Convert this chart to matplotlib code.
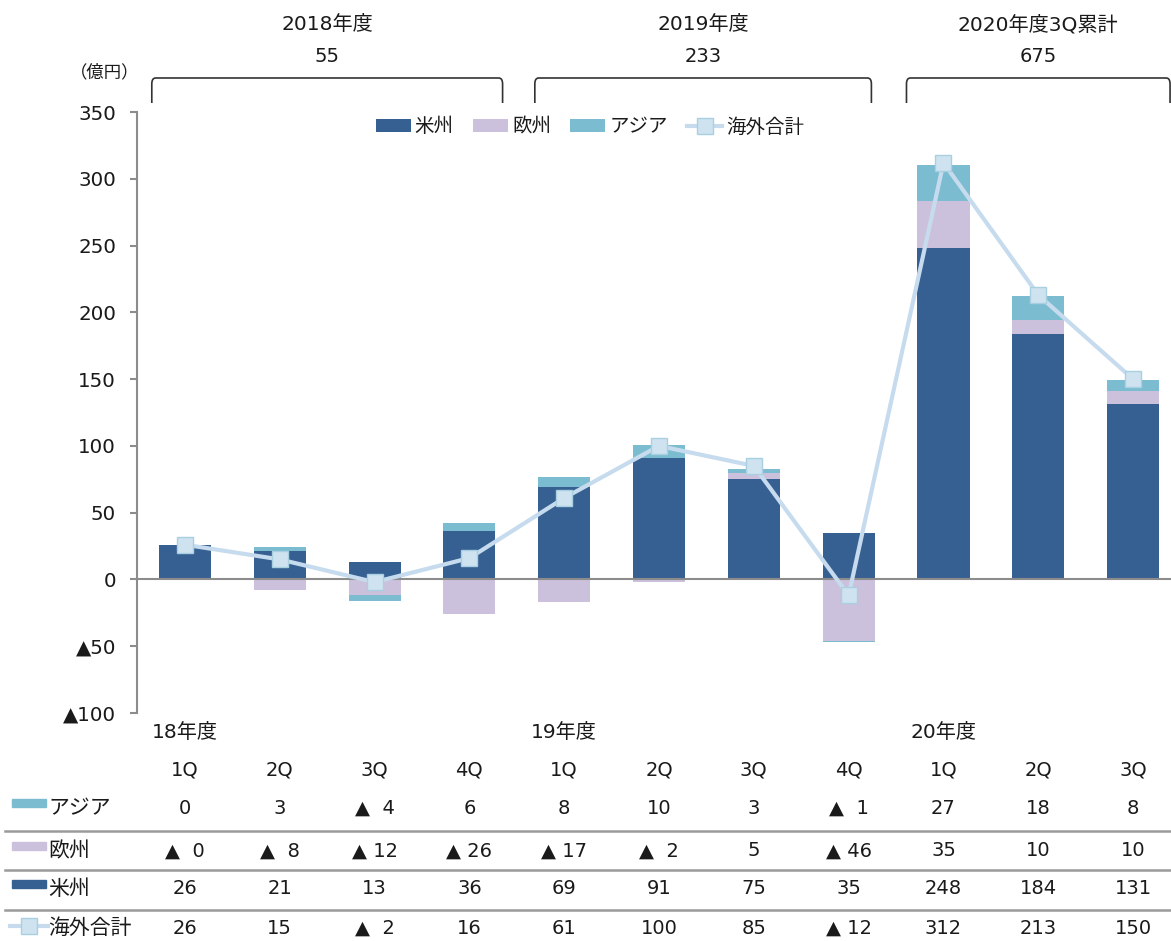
import numpy as np
import matplotlib.pyplot as plt
from matplotlib.path import Path
from matplotlib.patches import PathPatch, Rectangle
from matplotlib.lines import Line2D
import matplotlib.transforms as mtransforms

plt.rcParams['font.family'] = ['DejaVu Sans', 'Noto Sans CJK JP']
plt.rcParams['text.color'] = '#1a1a1a'

quarters = ['1Q', '2Q', '3Q', '4Q', '1Q', '2Q', '3Q', '4Q', '1Q', '2Q', '3Q']
year_labels = ['18年度', '19年度', '20年度']
year_start_idx = [0, 4, 8]

asia = [0, 3, -4, 6, 8, 10, 3, -1, 27, 18, 8]
europe = [-0.4, -8, -12, -26, -17, -2, 5, -46, 35, 10, 10]
america = [26, 21, 13, 36, 69, 91, 75, 35, 248, 184, 131]
total = [26, 15, -2, 16, 61, 100, 85, -12, 312, 213, 150]

period_titles = ['2018年度', '2019年度', '2020年度3Q累計']
period_totals = ['55', '233', '675']

c_america = '#376092'
c_europe = '#ccc1dc'
c_asia = '#7cbcd0'
c_line = '#c6dcee'
c_mark = '#cfe2f0'
c_mark_edge = '#a9d0e0'

W, H = 1171, 941
fig = plt.figure(figsize=(W / 100, H / 100), dpi=100)


def fx(px):
    return px / W


def fy(py):
    return 1 - py / H


ax = fig.add_axes([fx(137), fy(713), fx(1171) - fx(137), fy(112) - fy(713)])
x = np.arange(len(quarters))

pos = np.zeros(len(x))
neg = np.zeros(len(x))
for vals, col, lab in [(america, c_america, '米州'), (europe, c_europe, '欧州'), (asia, c_asia, 'アジア')]:
    v = np.array(vals, dtype=float)
    bottom = np.where(v >= 0, pos, neg)
    ax.bar(x, v, 0.55, bottom=bottom, color=col, label=lab, zorder=2)
    pos = np.where(v >= 0, pos + v, pos)
    neg = np.where(v < 0, neg + v, neg)

ax.plot(x, total, color=c_line, lw=3, marker='s', ms=11, mfc=c_mark, mec=c_mark_edge,
        mew=1, label='海外合計', zorder=4)

ax.axhline(0, color='#8c8c8c', lw=1.5, zorder=3)
ax.set_xlim(-0.506, 10.40)
ax.set_ylim(-100, 350)
ax.set_yticks(range(-100, 351, 50))
ax.set_yticklabels([('▲%d' % -t) if t < 0 else str(t) for t in range(-100, 351, 50)], fontsize=14.3,
                   color='#1a1a1a')
ax.set_xticks([])
for s in ['top', 'right', 'bottom']:
    ax.spines[s].set_visible(False)
ax.spines['left'].set_color('#8c8c8c')
ax.spines['left'].set_linewidth(1.5)
ax.tick_params(axis='y', length=5, color='#8c8c8c', width=1.5, pad=10)

handles, labels = ax.get_legend_handles_labels()
order = [1, 2, 3, 0]
ax.legend([handles[i] for i in order], [labels[i] for i in order], ncol=4, loc='center',
          bbox_to_anchor=((590 - 137) / 1034, (713 - 127) / 601), frameon=False, fontsize=14,
          handlelength=1.8, handleheight=0.6, columnspacing=1.0, handletextpad=0.2)

fig.text(fx(105), fy(72), '（億円）', ha='center', va='center', fontsize=12.5)

# brackets above the chart
blend = mtransforms.blended_transform_factory(ax.transData, fig.transFigure)
spans = [(-0.35, 3.35), (3.69, 7.24), (7.61, 10.39)]
for (a, b), t, n in zip(spans, period_titles, period_totals):
    y_top, y_bot, r = fy(78), fy(103), 0.04
    rv = 6 / H
    verts = [(a, y_bot), (a, y_top - rv), (a, y_top), (a + r, y_top),
             (b - r, y_top), (b, y_top), (b, y_top - rv), (b, y_bot)]
    codes = [Path.MOVETO, Path.LINETO, Path.CURVE3, Path.CURVE3,
             Path.LINETO, Path.CURVE3, Path.CURVE3, Path.LINETO]
    fig.add_artist(PathPatch(Path(verts, codes), transform=blend, fill=False, lw=1.2,
                             edgecolor='#333333', clip_on=False))
    fig.text((a + b) / 2, fy(25), t, transform=blend, ha='center', va='center', fontsize=14.5)
    fig.text((a + b) / 2, fy(57), n, transform=blend, ha='center', va='center', fontsize=14)


# table under the chart
def fmt(v):
    r = int(round(abs(v)))
    if v < 0:
        return '▲ ' + str(r) if r >= 10 else '▲  ' + str(r)
    return str(r)


for i, lab in zip(year_start_idx, year_labels):
    fig.text(i, fy(733), lab, transform=blend, ha='center', va='center', fontsize=14.5)
for i, q in enumerate(quarters):
    fig.text(i, fy(770), q, transform=blend, ha='center', va='center', fontsize=14)

rows = [('アジア', asia, c_asia, 808), ('欧州', europe, c_europe, 851),
        ('米州', america, c_america, 889), ('海外合計', total, None, 928)]
for name, vals, col, py in rows:
    if col is not None:
        fig.add_artist(Rectangle((fx(12), fy(py - 1)), fx(34), 8 / H, transform=fig.transFigure,
                                 color=col))
    else:
        fig.add_artist(Line2D([fx(10), fx(48)], [fy(py - 2), fy(py - 2)], transform=fig.transFigure,
                              color=c_line, lw=3))
        fig.add_artist(Line2D([fx(29)], [fy(py - 2)], transform=fig.transFigure, marker='s',
                              ms=11, mfc=c_mark, mec=c_mark_edge, mew=1))
    fig.text(fx(48), fy(py), name, ha='left', va='center', fontsize=15)
    for i, v in enumerate(vals):
        fig.text(i, fy(py), fmt(v), transform=blend, ha='center', va='center', fontsize=14)

for py in [831, 870, 910]:
    fig.add_artist(Line2D([fx(5), 1], [fy(py), fy(py)], transform=fig.transFigure,
                          color='#9a9a9a', lw=1.8))

fig.savefig('out.png', dpi=100)
